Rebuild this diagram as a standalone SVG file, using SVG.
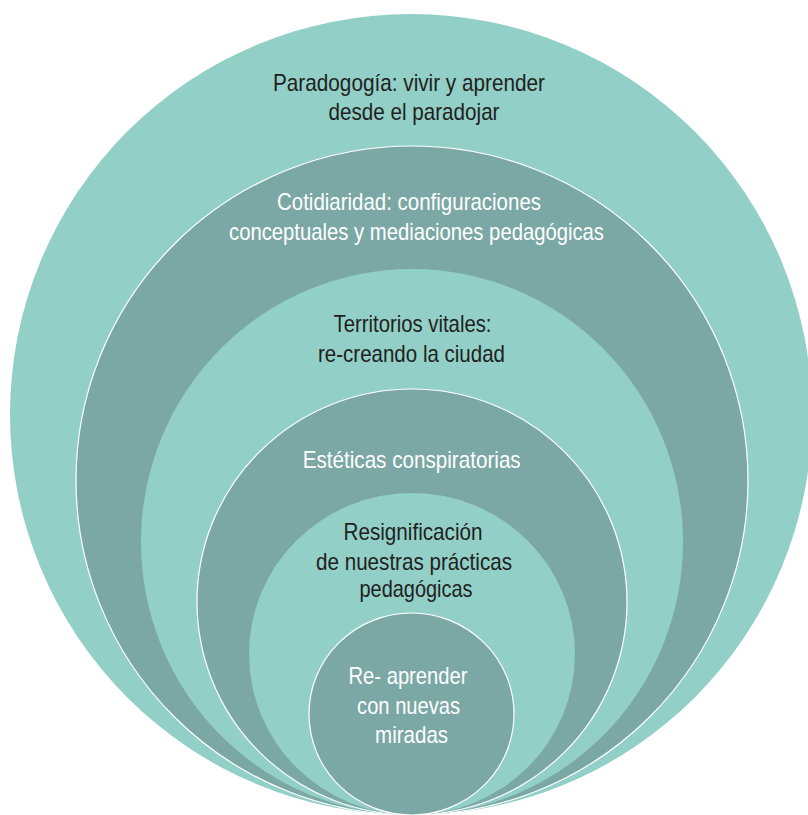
<svg xmlns="http://www.w3.org/2000/svg" width="808" height="815" viewBox="0 0 808 815">
  <style>
    .light { fill: #91CFC7; }
    .dark { fill: #7BA8A5; stroke: #FFFFFF; stroke-width: 1.2; }
    text { font-family: "Liberation Sans Narrow", "Liberation Sans", Arial, sans-serif; font-size: 24px; text-anchor: middle; }
    .tdark { fill: #231F20; }
    .tlight { fill: #FFFFFF; }
  </style>
  <rect x="0" y="0" width="808" height="815" fill="#FFFFFF"/>
  <g id="level1">
    <ellipse class="light" cx="411" cy="414.5" rx="401" ry="400.5"/>
    <text class="tdark" x="409" y="90.5" textLength="272" lengthAdjust="spacingAndGlyphs">Paradogogía: vivir y aprender</text>
    <text class="tdark" x="414" y="119.5" textLength="171" lengthAdjust="spacingAndGlyphs">desde el paradojar</text>
  </g>
  <g id="level2">
    <ellipse class="dark" cx="412" cy="480.5" rx="336" ry="334.5"/>
    <text class="tlight" x="409" y="210" textLength="264" lengthAdjust="spacingAndGlyphs">Cotidiaridad: configuraciones</text>
    <text class="tlight" x="416.5" y="239.5" textLength="375" lengthAdjust="spacingAndGlyphs">conceptuales y mediaciones pedagógicas</text>
  </g>
  <g id="level3">
    <ellipse class="light" cx="412" cy="542" rx="271" ry="273"/>
    <text class="tdark" x="412.5" y="331.5" textLength="158" lengthAdjust="spacingAndGlyphs">Territorios vitales:</text>
    <text class="tdark" x="411.5" y="361.5" textLength="187" lengthAdjust="spacingAndGlyphs">re-creando la ciudad</text>
  </g>
  <g id="level4">
    <ellipse class="dark" cx="412" cy="602" rx="215" ry="213"/>
    <text class="tlight" x="411.7" y="468.3" textLength="218" lengthAdjust="spacingAndGlyphs">Estéticas conspiratorias</text>
  </g>
  <g id="level5">
    <ellipse class="light" cx="412" cy="654" rx="163" ry="161"/>
    <text class="tdark" x="413" y="540" textLength="139" lengthAdjust="spacingAndGlyphs">Resignificación</text>
    <text class="tdark" x="414" y="570" textLength="196" lengthAdjust="spacingAndGlyphs">de nuestras prácticas</text>
    <text class="tdark" x="416" y="597" textLength="113" lengthAdjust="spacingAndGlyphs">pedagógicas</text>
  </g>
  <g id="level6">
    <ellipse class="dark" cx="411.5" cy="714" rx="102.5" ry="101"/>
    <text class="tlight" x="408" y="684" textLength="119" lengthAdjust="spacingAndGlyphs">Re- aprender</text>
    <text class="tlight" x="408.6" y="714" textLength="103" lengthAdjust="spacingAndGlyphs">con nuevas</text>
    <text class="tlight" x="411.6" y="743.3" textLength="73" lengthAdjust="spacingAndGlyphs">miradas</text>
  </g>
  <g id="connectors"/>
</svg>
